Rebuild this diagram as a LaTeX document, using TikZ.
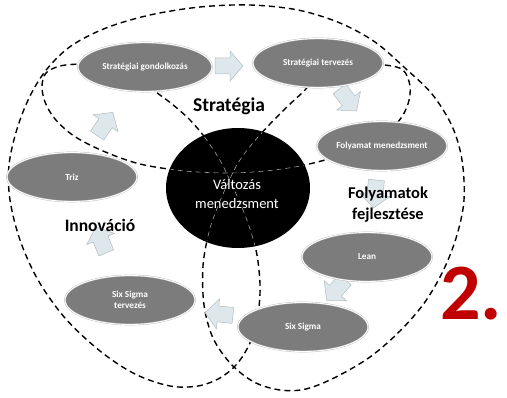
\documentclass[tikz,border=0pt]{standalone}
\usepackage{fontspec}
\setmainfont{Carlito}
\usetikzlibrary{shapes.geometric}

\definecolor{nodegray}{RGB}{124,124,124}
\definecolor{arrowfill}{RGB}{222,231,235}
\definecolor{arrowline}{RGB}{178,190,194}
\definecolor{numred}{RGB}{192,0,0}

% region boundaries (open curves; their ends disappear behind the stage ellipses)
\def\stratcurve{plot[smooth, tension=0.55] coordinates {
  (355,63) (385,65) (403,70) (410,86) (408,104) (398,122) (375,142) (335,157)
  (300,166) (265,171) (228,173) (185,171) (140,164) (103,151) (74,136) (55,119)
  (45,102) (42,86) (46,73) (60,66) (80,64) (105,64)}}
\def\outercurve{plot[smooth, tension=0.55] coordinates {
  (314,78) (305,90) (289,105) (270,124) (252,144) (238,163) (228,183) (218,206)
  (209,232) (203,266) (204,305) (213,338) (231,364) (254,382) (280,390) (306,389)
  (336,377) (370,357) (400,331) (425,302) (444,269) (457,235) (464,200) (462,160)
  (452,126) (432,94) (405,68) (375,42) (340,23) (298,10) (250,5) (200,7) (150,15)
  (106,28) (71,46) (47,69) (30,96) (17,129) (9,165) (10,200) (20,240) (38,280)
  (65,318) (100,351) (135,374) (170,386) (198,386) (220,378) (236,365) (247,349)
  (255,330) (259,307) (260,284) (257,255) (250,229) (241,205) (231,183) (221,162)
  (206,139) (190,120) (172,104) (156,92) (148,84)}}

\begin{document}
\begin{tikzpicture}[x=1pt, y=-1pt,
  region/.style={black, line width=1.4pt, dash pattern=on 6pt off 4pt},
  throughline/.style={gray!75, line width=0.6pt, dash pattern=on 5pt off 4pt},
  stage/.style={ellipse, fill=nodegray, draw=gray!55, double=white,
    double distance=0.9pt, line width=0.4pt, minimum width=130pt,
    minimum height=49pt, inner sep=0pt},
  stagetext/.style={text=white, align=center,
    font=\bfseries\fontsize{9.2}{10.5}\selectfont},
  hub/.style={ellipse, fill=black, minimum width=144pt, minimum height=120pt,
    inner sep=0pt},
  hubtext/.style={text=white, align=center, font=\fontsize{14.5}{19}\selectfont},
  regionlabel/.style={align=center, font=\bfseries\fontsize{16.5}{21}\selectfont},
  flowarrow/.pic={\path[fill=arrowfill, draw=arrowline, line width=0.5pt]
    (-14,-8) -- (1,-8) -- (1,-15) -- (14,0) -- (1,15) -- (1,8) -- (-14,8) -- cycle;}
]
\useasboundingbox (0,0) rectangle (507,398);

% dashed region boundaries
\draw[region] \stratcurve;
\draw[region] \outercurve;

% central hub, with the boundaries faintly visible across it
\node[hub] (vm) at (238,188) {};
\begin{scope}
  \clip (238,188) ellipse [x radius=71pt, y radius=59pt];
  \draw[throughline] \stratcurve;
  \draw[throughline] \outercurve;
\end{scope}
\node[hubtext] (vmtext) at (237,194) {Változás\\menedzsment};

% flow arrows between the stages (clockwise cycle)
\pic[rotate=0]    at (229,66)  {flowarrow};
\pic[rotate=-52]  at (348,100) {flowarrow};
\pic[rotate=-96]  at (375,194) {flowarrow};
\pic[rotate=-132] at (336,290) {flowarrow};
\pic[rotate=174]  at (219,314) {flowarrow};
\pic[rotate=112]  at (101,240) {flowarrow};
\pic[rotate=56]   at (105,124) {flowarrow};

% stages of the cycle
\node[stage, minimum width=134pt, label={[stagetext]center:Stratégiai gondolkozás}] (sg) at (145,67) {};
\node[stage, label={[stagetext]center:Stratégiai tervezés}] (st) at (318,63) {};
\node[stage, label={[stagetext]center:Folyamat menedzsment}] (fm) at (382,146) {};
\node[stage, label={[stagetext]center:Lean}] (lean) at (367,257) {};
\node[stage, label={[stagetext]center:Six Sigma}] (ss) at (303,327) {};
\node[stage, label={[stagetext]center:Six Sigma\\tervezés}] (sst) at (130,300) {};
\node[stage, label={[stagetext]center:Triz}] (triz) at (72,177) {};

% region names
\node[regionlabel, font=\bfseries\fontsize{19.5}{23}\selectfont] (lstrat) at (229,106) {Stratégia};
\node[regionlabel, font=\bfseries\fontsize{17.5}{21}\selectfont] (linno) at (100,225) {Innováció};
\node[regionlabel] (lfoly) at (388,205) {Folyamatok\\fejlesztése};

% chapter number
\node[anchor=base, text=numred, font=\bfseries\fontsize{80}{80}\selectfont] (num) at (471,320) {2.};
\end{tikzpicture}
\end{document}
